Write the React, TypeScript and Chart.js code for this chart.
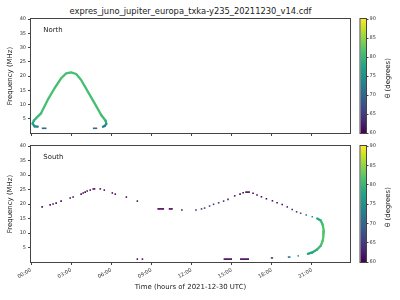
import React, { useEffect, useRef } from "react";
import { Chart, registerables } from "chart.js";

Chart.register(...registerables);

const FONT_FAMILY = "'DejaVu Sans', 'Liberation Sans', sans-serif";

// ---------- text ----------
const TITLE = "expres_juno_jupiter_europa_txka-y235_20211230_v14.cdf";
const X_LABEL = "Time (hours of 2021-12-30 UTC)";
const Y_LABEL = "Frequency (MHz)";
const CB_LABEL = "θ (degrees)";
const NORTH_NAME = "North";
const SOUTH_NAME = "South";

// ---------- axes ----------
const X_MIN = 0;
const X_MAX = 23.85; // hours
const X_TICKS = [0, 3, 6, 9, 12, 15, 18, 21];
const X_TICK_LABELS = ["00:00", "03:00", "06:00", "09:00", "12:00", "15:00", "18:00", "21:00"];
const Y_MIN = 0;
const Y_MAX = 40;
const Y_TICKS = [5, 10, 15, 20, 25, 30, 35, 40];
const THETA_MIN = 60;
const THETA_MAX = 90;
const THETA_TICKS = [60, 65, 70, 75, 80, 85, 90];

// ---------- North panel (hours, MHz, degrees) ----------
const northTime = [0.5, 0.28, 0.12, 0.22, 0.38, 0.75, 1.25, 1.76, 2.25, 2.63, 3.0, 3.38, 3.75, 4.25, 4.76, 5.25, 5.58, 5.63, 5.52, 5.38];
const northFreq = [2.2, 2.3, 3.3, 4.4, 5.2, 6.9, 11.6, 15.7, 19.2, 20.9, 21.3, 20.7, 18.6, 14.5, 10.4, 6.3, 4.3, 3.2, 2.5, 2.2];
const northTheta = [71, 74, 77, 79, 80, 81, 81, 81, 81, 81, 81, 81, 81, 81, 81, 81, 80, 78, 74, 71];
const northDashStart = [0.81, 4.63];
const northDashEnd = [1.16, 4.95];
const northDashFreq = [1.65, 1.65];
const northDashTheta = [70, 70];

// ---------- South panel ----------
const southDotTime = [0.83, 1.43, 1.65, 1.88, 2.25, 2.93, 3.15, 3.75, 3.9, 4.05, 4.2, 4.43, 4.65, 4.75, 5.18, 5.48, 6.08, 6.3, 7.13, 7.95, 7.95, 8.33, 11.28, 12.33, 12.75, 12.98, 13.35, 13.65, 14.03, 14.4, 14.73, 15.23, 15.63, 15.86, 16.08, 16.2, 16.3, 16.6, 16.9, 17.23, 17.6, 18.05, 18.4, 18.78, 19.16, 19.53, 19.86, 20.16, 20.58, 21.03, 19.98];
const southDotFreq = [19.0, 19.7, 20.0, 20.3, 21.0, 22.1, 22.4, 23.4, 23.8, 24.1, 24.5, 24.8, 25.2, 25.2, 25.2, 24.8, 23.8, 23.4, 22.4, 21.0, 1.0, 1.0, 17.9, 17.9, 18.3, 18.6, 19.3, 19.9, 20.4, 21.0, 21.6, 22.8, 23.4, 23.9, 24.1, 24.1, 24.1, 23.7, 23.1, 22.5, 21.8, 21.1, 20.4, 19.8, 19.0, 18.1, 17.3, 16.8, 16.2, 15.6, 2.1];
const southDotTheta = [60, 60, 60, 60, 60, 60, 60, 60, 60, 60, 60, 60, 60, 60, 60, 60, 60, 60, 60, 60, 60, 60, 61, 63, 64, 65, 65, 65, 64, 63, 62, 61, 60, 60, 60, 60, 60, 60, 60, 60, 61, 61, 61, 61, 62, 63, 64, 67, 72, 76, 76];
const southArcTime = [21.4, 21.66, 21.8, 21.9, 21.85, 21.8, 21.66, 21.36, 21.03, 20.7];
const southArcFreq = [15.0, 14.3, 12.9, 10.6, 8.5, 7.2, 5.6, 4.2, 3.3, 2.8];
const southArcTheta = [77, 79, 81, 82, 82, 82, 81, 80, 78, 77];
const southDashStart = [9.45, 10.3, 14.4, 15.63, 17.93, 19.2];
const southDashEnd = [9.95, 10.6, 15.03, 16.3, 18.1, 19.4];
const southDashFreq = [18.3, 18.3, 1.0, 1.0, 1.4, 1.7];
const southDashTheta = [60, 60, 60, 60, 65, 71];

// ---------- colormap ----------
const VIRIDIS = ["#440154", "#482475", "#414487", "#355f8d", "#2a788e", "#21918c", "#22a884", "#44bf70", "#7ad151", "#bddf26", "#fde725"];

function hexRgb(h: string): number[] {
  return [parseInt(h.slice(1, 3), 16), parseInt(h.slice(3, 5), 16), parseInt(h.slice(5, 7), 16)];
}

function viridis(theta: number): string {
  const u = Math.max(0, Math.min(1, (theta - THETA_MIN) / (THETA_MAX - THETA_MIN))) * 10;
  const i = Math.min(9, Math.floor(u));
  const f = u - i;
  const a = hexRgb(VIRIDIS[i]);
  const b = hexRgb(VIRIDIS[i + 1]);
  const c = a.map((v, k) => Math.round(v + (b[k] - v) * f));
  return `rgb(${c[0]},${c[1]},${c[2]})`;
}

// ---------- plugins ----------
const framePlugin = {
  id: "frame",
  afterDraw(chart: any) {
    const { ctx, chartArea: a } = chart;
    ctx.save();
    ctx.strokeStyle = "#444";
    ctx.lineWidth = 1;
    ctx.strokeRect(a.left - 0.5, a.top - 0.5, a.right - a.left + 1, a.bottom - a.top + 1);
    ctx.restore();
  },
};

const panelLabelPlugin = {
  id: "panelLabel",
  afterDraw(chart: any, _args: any, opts: any) {
    if (!opts || !opts.text) return;
    const { ctx, chartArea: a } = chart;
    ctx.save();
    ctx.fillStyle = "#222";
    ctx.font = `6.94px ${FONT_FAMILY}`;
    ctx.textBaseline = "alphabetic";
    ctx.textAlign = "left";
    ctx.fillText(opts.text, a.left + 12.3, a.top + 13.3);
    ctx.restore();
  },
};

// ---------- dataset builders ----------
function lineSet(times: number[], freqs: number[], thetas: number[], width: number) {
  return {
    data: times.map((t, i) => ({ x: t, y: freqs[i] })),
    showLine: true,
    pointRadius: 0,
    borderWidth: width,
    borderColor: viridis(thetas[0]),
    borderCapStyle: "round",
    borderJoinStyle: "round",
    segment: {
      borderColor: (c: any) => viridis((thetas[c.p0DataIndex] + thetas[c.p1DataIndex]) / 2),
    },
  };
}

function dotSet(times: number[], freqs: number[], thetas: number[]) {
  return {
    data: times.map((t, i) => ({ x: t, y: freqs[i] })),
    showLine: false,
    pointStyle: "rect",
    pointRadius: 1.1,
    pointBorderWidth: 0,
    pointBackgroundColor: thetas.map(viridis),
  };
}

function dashSets(starts: number[], ends: number[], freqs: number[], thetas: number[]) {
  return starts.map((s, i) => ({
    data: [
      { x: s, y: freqs[i] },
      { x: ends[i], y: freqs[i] },
    ],
    showLine: true,
    pointRadius: 0,
    borderWidth: 1.6,
    borderColor: viridis(thetas[i]),
  }));
}

function northDatasets() {
  return [
    lineSet(northTime, northFreq, northTheta, 2.3),
    ...dashSets(northDashStart, northDashEnd, northDashFreq, northDashTheta),
  ];
}

function southDatasets() {
  return [
    dotSet(southDotTime, southDotFreq, southDotTheta),
    lineSet(southArcTime, southArcFreq, southArcTheta, 2.3),
    ...dashSets(southDashStart, southDashEnd, southDashFreq, southDashTheta),
  ];
}

// ---------- components ----------
type PanelProps = {
  south: boolean;
  top: number;
  height: number;
  padTop: number;
  xAxisHeight: number;
};

function Panel({ south, top, height, padTop, xAxisHeight }: PanelProps) {
  const ref = useRef<HTMLCanvasElement | null>(null);
  useEffect(() => {
    if (!ref.current) return;
    const tickGrid = { display: true, drawOnChartArea: false, drawTicks: true, tickLength: 3, color: "#444", lineWidth: 1 };
    const chart = new Chart(ref.current, {
      type: "scatter",
      data: { datasets: (south ? southDatasets() : northDatasets()) as any },
      plugins: [framePlugin, panelLabelPlugin],
      options: {
        responsive: false,
        animation: false,
        events: [],
        layout: { padding: { left: 0, right: 50, top: padTop, bottom: 0 } },
        plugins: {
          legend: { display: false },
          tooltip: { enabled: false },
          panelLabel: { text: south ? SOUTH_NAME : NORTH_NAME },
        } as any,
        scales: {
          x: {
            type: "linear",
            min: X_MIN,
            max: X_MAX,
            afterBuildTicks: (s: any) => {
              s.ticks = X_TICKS.map((v) => ({ value: v }));
            },
            afterFit: (s: any) => {
              s.height = xAxisHeight;
            },
            grid: tickGrid,
            border: { display: false },
            ticks: {
              display: south,
              autoSkip: false,
              minRotation: 30,
              maxRotation: 30,
              padding: 2,
              color: "#333",
              font: { size: 5.2, family: FONT_FAMILY },
              callback: (v: any) => {
                const i = X_TICKS.indexOf(Number(v));
                return i >= 0 ? X_TICK_LABELS[i] : "";
              },
            },
            title: {
              display: south,
              text: X_LABEL,
              color: "#222",
              font: { size: 6.94, family: FONT_FAMILY },
              padding: { top: 0, bottom: 8.8 },
            },
          },
          y: {
            type: "linear",
            min: Y_MIN,
            max: Y_MAX,
            afterBuildTicks: (s: any) => {
              s.ticks = Y_TICKS.map((v) => ({ value: v }));
            },
            afterFit: (s: any) => {
              s.width = 31;
            },
            grid: tickGrid,
            border: { display: false },
            ticks: {
              padding: 2,
              color: "#333",
              font: { size: 5, family: FONT_FAMILY },
            },
            title: {
              display: true,
              text: Y_LABEL,
              color: "#222",
              font: { size: 6.94, family: FONT_FAMILY },
              padding: { top: 6, bottom: 0 },
            },
          },
        },
      } as any,
    });
    return () => chart.destroy();
  }, [south, padTop, xAxisHeight]);
  return (
    <canvas
      ref={ref}
      width={400}
      height={height}
      style={{ position: "absolute", left: 0, top, width: 400, height }}
    />
  );
}

type BarProps = { top: number; height: number; padTop: number; padBottom: number };

function ColorBar({ top, height, padTop, padBottom }: BarProps) {
  const ref = useRef<HTMLCanvasElement | null>(null);
  useEffect(() => {
    if (!ref.current) return;
    const chart = new Chart(ref.current, {
      type: "bar",
      data: {
        labels: [""],
        datasets: [
          {
            data: [[THETA_MIN, THETA_MAX]] as any,
            barPercentage: 1,
            categoryPercentage: 1,
            borderWidth: 0,
            backgroundColor: (c: any) => {
              const a = c.chart.chartArea;
              if (!a) return VIRIDIS[0];
              const g = c.chart.ctx.createLinearGradient(0, a.bottom, 0, a.top);
              VIRIDIS.forEach((col, i) => g.addColorStop(i / (VIRIDIS.length - 1), col));
              return g;
            },
          },
        ],
      },
      plugins: [framePlugin],
      options: {
        responsive: false,
        animation: false,
        events: [],
        layout: { padding: { left: 20.5, right: 0, top: padTop, bottom: padBottom } },
        plugins: { legend: { display: false }, tooltip: { enabled: false } },
        scales: {
          x: { display: false },
          y: {
            position: "right",
            min: THETA_MIN,
            max: THETA_MAX,
            afterBuildTicks: (s: any) => {
              s.ticks = THETA_TICKS.map((v) => ({ value: v }));
            },
            afterFit: (s: any) => {
              s.width = 34;
            },
            grid: { display: true, drawOnChartArea: false, drawTicks: true, tickLength: 2.5, color: "#444" },
            border: { display: false },
            ticks: { padding: 1, color: "#333", font: { size: 5, family: FONT_FAMILY } },
          },
        },
      } as any,
    });
    return () => chart.destroy();
  }, [padTop, padBottom]);
  return (
    <canvas
      ref={ref}
      width={60}
      height={height}
      style={{ position: "absolute", left: 340, top, width: 60, height }}
    />
  );
}

function CbLabel({ cy }: { cy: number }) {
  return (
    <div
      style={{
        position: "absolute",
        left: 387.5 - 40,
        top: cy - 5,
        width: 80,
        height: 10,
        lineHeight: "10px",
        textAlign: "center",
        fontSize: "6.94px",
        color: "#222",
        fontFamily: FONT_FAMILY,
        transform: "rotate(-90deg)",
        whiteSpace: "nowrap",
      }}
    >
      {CB_LABEL}
    </div>
  );
}

export default function App() {
  return (
    <div
      style={{
        position: "fixed",
        left: 0,
        top: 0,
        width: 400,
        height: 300,
        background: "#fff",
        overflow: "hidden",
        fontFamily: FONT_FAMILY,
      }}
    >
      <div
        style={{
          position: "absolute",
          left: 31,
          top: 6,
          width: 319,
          lineHeight: "10px",
          fontSize: "8.33px",
          textAlign: "center",
          color: "#222",
          whiteSpace: "nowrap",
        }}
      >
        {TITLE}
      </div>
      <Panel south={false} top={0} height={140} padTop={19} xAxisHeight={7} />
      <Panel south={true} top={140} height={160} padTop={6} xAxisHeight={38} />
      <ColorBar top={0} height={140} padTop={19} padBottom={7} />
      <ColorBar top={140} height={160} padTop={6} padBottom={38} />
      <CbLabel cy={78} />
      <CbLabel cy={207} />
    </div>
  );
}
